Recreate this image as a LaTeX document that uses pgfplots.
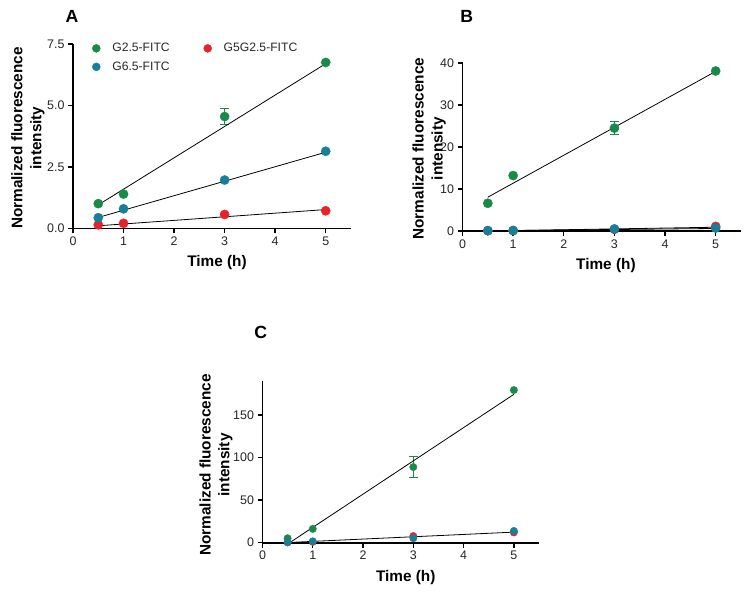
\documentclass[border=0pt]{standalone}
\usepackage{fontspec}
\setmainfont{Liberation Sans}
\usepackage{pgfplots}
\pgfplotsset{compat=1.18}
\definecolor{cgreen}{HTML}{1A8A4B}
\definecolor{cblue}{HTML}{16809A}
\definecolor{cred}{HTML}{E6222B}
\pgfplotsset{
  panel/.style={
    scale only axis,
    axis lines=left,
    axis line style={-, line width=1.6bp, black},
    xmin=0, xmax=5.5, xtick={0,1,2,3,4,5},
    tick align=outside,
    major tick length=5bp,
    tick style={line width=1.4bp, black},
    ticklabel style={font=\fontsize{12.5}{14}\selectfont, text=black!85},
    /pgf/number format/assume math mode=true,
    clip=false,
    xlabel={Time (h)},
    ylabel={Normalized fluorescence\\intensity},
    xlabel style={font=\bfseries\fontsize{15.4}{17}\selectfont, anchor=center},
    ylabel style={font=\bfseries\fontsize{15.4}{19}\selectfont, align=center, anchor=center},
  },
  grn/.style={only marks, mark=*, mark options={draw=cgreen, fill=cgreen}},
  blu/.style={only marks, mark=*, mark options={draw=cblue, fill=cblue}},
  rd/.style={only marks, mark=*, mark options={draw=cred, fill=cred}},
  fit/.style={black, line width=0.8bp, no marks, forget plot},
}
\begin{document}
\begin{tikzpicture}
\useasboundingbox (0bp,0bp) rectangle (750bp,595bp);
% Panel letters
\node[font=\bfseries\fontsize{17.7}{20}\selectfont] at (72bp,578.7bp) {A};
\node[font=\bfseries\fontsize{17.7}{20}\selectfont] at (466.7bp,578.7bp) {B};
\node[font=\bfseries\fontsize{17.7}{20}\selectfont] at (260.8bp,263bp) {C};

% ---------- Panel A ----------
\begin{axis}[panel, at={(73bp,366.5bp)}, anchor=south west,
  width=278bp, height=184.5bp,
  ymin=0, ymax=7.5, ytick={0,2.5,5,7.5},
  yticklabel style={/pgf/number format/.cd, fixed, fixed zerofill, precision=1},
  mark size=4.6bp,
  xlabel style={at={(axis description cs:0.518,-0.182)}},
  ylabel style={at={(axis description cs:-0.162,0.49)}},
  legend columns=2,
  legend image post style={mark size=4bp},
  legend style={draw=none, fill=none, at={(axis description cs:0.058,1.026)}, anchor=north west,
    font=\fontsize{12.2}{14}\selectfont, text=black!85, row sep=4.5bp,
    /tikz/every odd column/.append style={column sep=10bp},
    /tikz/every even column/.append style={column sep=32bp}},
]
\addplot[grn, error bars/.cd, y dir=both, y explicit,
  error bar style={line width=1bp, cgreen}, error mark options={rotate=90, mark size=4.5bp, line width=1bp, cgreen}]
  coordinates {(0.5,1.01) (1,1.40) (3,4.55) +- (0,0.33) (5,6.75)};
\addlegendentry{G2.5-FITC}
\addplot[rd] coordinates {(0.5,0.15) (1,0.21) (3,0.57) (5,0.72)};
\addlegendentry{G5G2.5-FITC}
\addplot[blu] coordinates {(0.5,0.44) (1,0.80) (3,1.97) (5,3.14)};
\addlegendentry{G6.5-FITC}
\addplot[fit] coordinates {(0.5,0.96) (5,6.70)};
\addplot[fit] coordinates {(0.5,0.45) (5,3.10)};
\addplot[fit] coordinates {(0.5,0.11) (5,0.77)};
\end{axis}

% ---------- Panel B ----------
\begin{axis}[panel, at={(462.5bp,364bp)}, anchor=south west,
  width=278.5bp, height=168bp,
  ymin=0, ymax=40, ytick={0,10,20,30,40},
  mark size=4.6bp,
  xlabel style={at={(axis description cs:0.515,-0.208)}},
  ylabel style={at={(axis description cs:-0.12,0.49)}},
]
\addplot[grn, error bars/.cd, y dir=both, y explicit,
  error bar style={line width=1bp, cgreen}, error mark options={rotate=90, mark size=4.5bp, line width=1bp, cgreen}]
  coordinates {(0.5,6.6) (1,13.2) (3,24.5) +- (0,1.5) (5,38.1)};
\addplot[rd] coordinates {(0.5,0.05) (1,0.1) (3,0.4) (5,1.1)};
\addplot[blu] coordinates {(0.5,0.1) (1,0.12) (3,0.5) (5,0.7)};
\addplot[fit] coordinates {(0.5,8.05) (5,38.0)};
\addplot[fit] coordinates {(0.5,0.0) (5,0.9)};
\addplot[fit] coordinates {(0.5,0.05) (5,0.6)};
\end{axis}

% ---------- Panel C ----------
\begin{axis}[panel, at={(262.5bp,52.3bp)}, anchor=south west,
  width=276.5bp, height=162bp,
  ymin=0, ymax=190, ytick={0,50,100,150},
  mark size=3.7bp,
  xlabel style={at={(axis description cs:0.518,-0.212)}},
  ylabel style={at={(axis description cs:-0.168,0.48)}},
]
\addplot[grn, error bars/.cd, y dir=both, y explicit,
  error bar style={line width=1bp, cgreen}, error mark options={rotate=90, mark size=4.5bp, line width=1bp, cgreen}]
  coordinates {(0.5,5.2) (1,16.2) (3,88.7) +- (0,12.5) (5,179)};
\addplot[rd] coordinates {(0.5,0.3) (1,1.0) (3,7.8) (5,12.0)};
\addplot[blu] coordinates {(0.5,0.6) (1,1.6) (3,5.2) (5,13.8)};
\addplot[fit] coordinates {(0.54,0) (5,174)};
\addplot[fit] coordinates {(0.5,0.2) (5,12.4)};
\end{axis}
\end{tikzpicture}
\end{document}
